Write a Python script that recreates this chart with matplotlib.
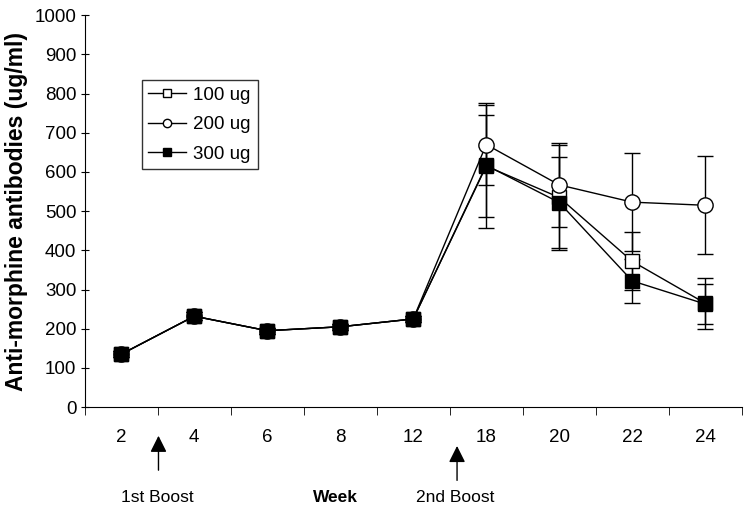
import numpy as np
import matplotlib.pyplot as plt

weeks = ["2", "4", "6", "8", "12", "18", "20", "22", "24"]

dose_100 = [135, 232, 195, 205, 225, 615, 535, 372, 265]
dose_200 = [135, 232, 195, 205, 225, 670, 567, 523, 515]
dose_300 = [135, 232, 195, 205, 225, 617, 522, 322, 263]

err_100 = [8, 10, 8, 8, 8, 130, 135, 74, 65]
err_200 = [8, 10, 8, 8, 8, 102, 108, 125, 125]
err_300 = [8, 10, 8, 8, 8, 160, 115, 56, 52]


def main() -> None:
    plt.rcParams["font.family"] = ["Liberation Sans", "DejaVu Sans"]
    fig = plt.figure(figsize=(7.5, 5.07), dpi=100)
    ax = fig.add_axes([0.113, 0.197, 0.876, 0.773])

    x = np.arange(len(weeks))
    series = [
        ("100 ug", dose_100, err_100, "s", "white", 10),
        ("200 ug", dose_200, err_200, "o", "white", 11),
        ("300 ug", dose_300, err_300, "s", "black", 10),
    ]
    handles = []
    for label, vals, errs, mk, fc, ms in series:
        ax.errorbar(x, vals, yerr=errs, fmt="none", ecolor="black",
                    elinewidth=1, capsize=6, capthick=1, zorder=2)
        ax.plot(x, vals, color="black", lw=1, marker=mk, ms=ms,
                mfc=fc, mec="black", mew=1, zorder=3)
        h, = ax.plot([], [], color="black", lw=1, marker=mk, ms=6,
                     mfc=fc, mec="black", mew=1, label=label)
        handles.append(h)

    ax.set_xlim(-0.5, len(weeks) - 0.5)
    ax.set_ylim(0, 1000)
    ax.set_yticks(range(0, 1001, 100))
    ax.set_xticks(x)
    ax.set_xticklabels(weeks)
    ax.set_xticks(np.arange(-0.5, len(weeks), 1), minor=True)
    ax.tick_params(axis="x", which="major", length=0, pad=16, labelsize=13.5)
    ax.tick_params(axis="x", which="minor", length=6, direction="out")
    ax.tick_params(axis="y", length=6, direction="inout", labelsize=13.5, pad=3)
    for s in ["top", "right"]:
        ax.spines[s].set_visible(False)
    ax.set_ylabel("Anti-morphine antibodies (ug/ml)", fontsize=16.5,
                  fontweight="bold", labelpad=5)

    leg = ax.legend(handles=handles, loc="upper left",
                    bbox_to_anchor=(0.087, 0.834), fontsize=13.5,
                    frameon=True, fancybox=False, edgecolor="black",
                    handlelength=2.0, handletextpad=0.4, borderpad=0.35,
                    labelspacing=0.65, borderaxespad=0)
    leg.get_frame().set_linewidth(1)

    # boost arrows below the axis
    for xpos, y0, y1, txt in [(0.51, -0.066, -0.168, "1st Boost"),
                              (4.6, -0.092, -0.194, "2nd Boost")]:
        ax.annotate("", xy=(xpos, y0), xytext=(xpos, y1),
                    xycoords=("data", "axes fraction"),
                    textcoords=("data", "axes fraction"),
                    arrowprops=dict(arrowstyle="-|>", color="black", lw=1,
                                    mutation_scale=25))
        ax.text(xpos - 0.02, -0.23, txt, transform=ax.get_xaxis_transform(),
                ha="center", va="center", fontsize=12.5)
    ax.text(2.93, -0.23, "Week", transform=ax.get_xaxis_transform(),
            ha="center", va="center", fontsize=12.5, fontweight="bold")

    fig.savefig("out.png", dpi=100)


if __name__ == "__main__":
    main()
